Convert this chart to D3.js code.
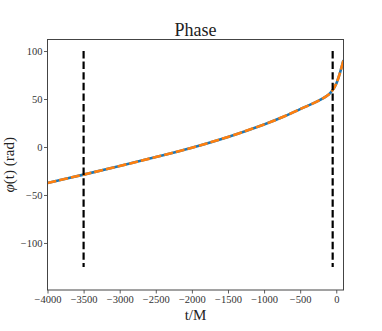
<!DOCTYPE html>
<html>
<head>
<meta charset="utf-8">
<script src="https://cdn.jsdelivr.net/npm/d3@7"></script>
<style>
  body { margin: 0; background: #fff; }
  text { font-family: "Liberation Serif", "DejaVu Serif", serif; }
</style>
</head>
<body>
<div id="chart"></div>
<script>
// Data
var times = [-4000, -3500, -3000, -2500, -2000, -1500, -1000, -750, -500, -250, -100, -40, 0, 50, 100];
var phase = [-37.5, -28.8, -19.8, -10.5, -0.7, 10.5, 23.5, 31, 39.5, 48, 55, 60.5, 66, 77, 90.5];
var markerTimes = [-3500, -50];
var markerRange = [-125, 100];
var xTicks = [-4000, -3500, -3000, -2500, -2000, -1500, -1000, -500, 0];
var yTicks = [-100, -50, 0, 50, 100];

var W = 382, H = 331;
var MARGIN = { top: 39.5, right: 38.5, bottom: 41, left: 47.5 };
var width = W - MARGIN.left - MARGIN.right,
  height = H - MARGIN.top - MARGIN.bottom;

var svg = d3.select('#chart').append('svg')
  .attr('width', W)
  .attr('height', H);

var x = d3.scaleLinear().domain([-4000, 100]).range([0, width]);
var y = d3.scaleLinear().domain([-149, 112]).range([height, 0]);

var g = svg.append('g')
  .attr('transform', 'translate(' + MARGIN.left + ',' + MARGIN.top + ')');

g.append('clipPath').attr('id', 'clip')
  .append('rect').attr('width', width).attr('height', height);

var pts = times.map(function(t, i) { return [t, phase[i]]; });
var line = d3.line()
  .x(function(d) { return x(d[0]); })
  .y(function(d) { return y(d[1]); })
  .curve(d3.curveCatmullRom.alpha(0.5));

var plot = g.append('g').attr('clip-path', 'url(#clip)');

// blue solid underneath, orange dashed on top
plot.append('path')
  .attr('d', line(pts))
  .attr('fill', 'none')
  .attr('stroke', '#1f77b4')
  .attr('stroke-width', 2.6);

plot.append('path')
  .attr('d', line(pts))
  .attr('fill', 'none')
  .attr('stroke', '#ff7f0e')
  .attr('stroke-width', 2.6)
  .attr('stroke-dasharray', '9,3');

// vertical dashed markers
plot.selectAll('line.marker')
  .data(markerTimes)
  .enter()
  .append('line')
  .attr('class', 'marker')
  .attr('x1', function(d) { return x(d); })
  .attr('x2', function(d) { return x(d); })
  .attr('y1', y(markerRange[1]))
  .attr('y2', y(markerRange[0]))
  .attr('stroke', '#000')
  .attr('stroke-width', 2.2)
  .attr('stroke-dasharray', '7.4,3.2');

// axes
var fmt = function(d) { return d < 0 ? '\u2212' + Math.abs(d) : String(d); };

var xAxis = g.append('g')
  .attr('transform', 'translate(0,' + height + ')')
  .call(d3.axisBottom(x).tickValues(xTicks).tickFormat(fmt).tickSize(3.5).tickSizeOuter(0));

var yAxis = g.append('g')
  .call(d3.axisLeft(y).tickValues(yTicks).tickFormat(fmt).tickSize(3.5).tickSizeOuter(0));

[xAxis, yAxis].forEach(function(a) {
  a.select('.domain').remove();
  a.selectAll('line').attr('stroke', '#333').attr('stroke-width', 0.8);
  a.selectAll('text')
    .attr('fill', '#333')
    .style('font-size', '10.5px')
    .style('font-family', '"Liberation Serif", serif');
});
xAxis.selectAll('text').attr('dy', '0.71em').attr('y', 6);
yAxis.selectAll('text').attr('x', -5);

// frame
g.append('rect')
  .attr('width', width)
  .attr('height', height)
  .attr('fill', 'none')
  .attr('stroke', '#444')
  .attr('stroke-width', 1);

// title and labels
svg.append('text')
  .attr('x', MARGIN.left + width / 2)
  .attr('y', 35.5)
  .attr('text-anchor', 'middle')
  .attr('fill', '#222')
  .style('font-size', '18px')
  .text('Phase');

svg.append('text')
  .attr('x', MARGIN.left + width / 2)
  .attr('y', 320)
  .attr('text-anchor', 'middle')
  .attr('fill', '#222')
  .style('font-size', '15px')
  .text('t/M');

svg.append('text')
  .attr('transform', 'translate(14,' + (MARGIN.top + height / 2) + ') rotate(-90)')
  .attr('text-anchor', 'middle')
  .attr('fill', '#222')
  .style('font-size', '15px')
  .html('<tspan font-style="italic">\u03c6</tspan>(t) (rad)');
</script>
</body>
</html>
